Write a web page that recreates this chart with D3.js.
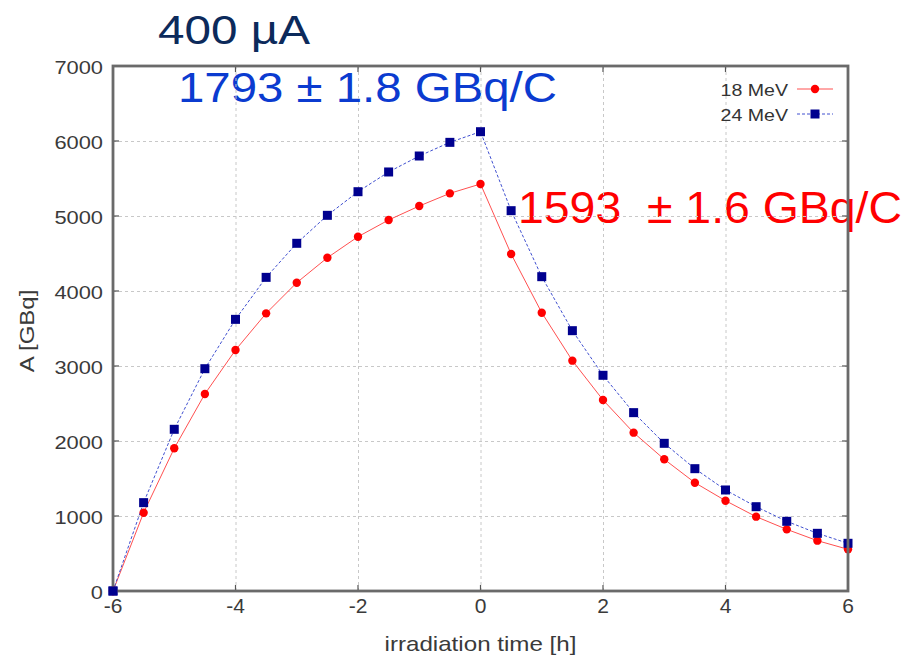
<!DOCTYPE html>
<html>
<head>
<meta charset="utf-8">
<script src="https://cdn.jsdelivr.net/npm/d3@7"></script>
<style>
  body { margin: 0; background: #fff; }
  svg { display: block; font-family: "Liberation Sans", Arial, sans-serif; }
  .grid line { stroke: #c8c8c8; stroke-dasharray: 3,3; stroke-width: 1; }
  .tick-label { fill: #3a3a3a; }
</style>
</head>
<body>
<svg id="chart"></svg>
<script>
// irradiation time [h], one point every half hour
const times = [-6, -5.5, -5, -4.5, -4, -3.5, -3, -2.5, -2, -1.5, -1, -0.5, 0,
               0.5, 1, 1.5, 2, 2.5, 3, 3.5, 4, 4.5, 5, 5.5, 6];

// activity A [GBq]
const mev18 = [0, 1044, 1903, 2627, 3213, 3702, 4111, 4444, 4724, 4947, 5133, 5302, 5427,
               4493, 3711, 3071, 2547, 2111, 1756, 1444, 1204, 991, 822, 671, 556];
const mev24 = [0, 1178, 2156, 2964, 3622, 4182, 4636, 5009, 5324, 5587, 5800, 5982, 6124,
               5071, 4191, 3471, 2876, 2378, 1969, 1631, 1347, 1124, 929, 769, 636];

const seriesNames = ['18 MeV', '24 MeV'];
const xTicks = [-6, -4, -2, 0, 2, 4, 6];
const yTicks = [0, 1000, 2000, 3000, 4000, 5000, 6000, 7000];

const annotations = ['400 µA', '1793 ± 1.8 GBq/C', '1593  ± 1.6 GBq/C'];

const width = 909, height = 655;
const margin = {top: 66, right: 61, bottom: 64, left: 113};
const innerW = width - margin.left - margin.right;
const innerH = height - margin.top - margin.bottom;

const svg = d3.select('#chart').attr('width', width).attr('height', height);

// widen text a bit, the source font is broader than Liberation Sans
function stretch(sel, factor) {
  sel.each(function() {
    const len = this.getComputedTextLength();
    d3.select(this).attr('textLength', len * factor).attr('lengthAdjust', 'spacingAndGlyphs');
  });
}

// big overlay labels sit under the plot frame
const ann = svg.append('g');
ann.append('text').attr('x', 158).attr('y', 44)
    .attr('font-size', 40).attr('fill', '#0c2a5b')
    .attr('textLength', 152).attr('lengthAdjust', 'spacingAndGlyphs')
    .text(annotations[0]);
ann.append('text').attr('x', 178).attr('y', 102)
    .attr('font-size', 42).attr('fill', '#0b3bd0')
    .attr('textLength', 379).attr('lengthAdjust', 'spacingAndGlyphs')
    .text(annotations[1]);
// keep the double space after the number
ann.append('text').attr('x', 518).attr('y', 223)
    .attr('font-size', 45).attr('fill', '#ff0000')
    .attr('textLength', 384).attr('lengthAdjust', 'spacingAndGlyphs')
    .text(annotations[2].replace(/ /g, '\u00a0'));

const chart = svg.append('g')
    .attr('transform', `translate(${margin.left},${margin.top})`);

const xScale = d3.scaleLinear().domain([-6, 6]).range([0, innerW]);
const yScale = d3.scaleLinear().domain([0, 7000]).range([innerH, 0]);

// dashed grid
chart.append('g').attr('class', 'grid')
    .call(d3.axisBottom(xScale).tickValues(xTicks.slice(1, -1)).tickSize(innerH).tickFormat(''))
    .call(g => g.select('.domain').remove());
chart.append('g').attr('class', 'grid')
    .call(d3.axisLeft(yScale).tickValues(yTicks.slice(1, -1)).tickSize(-innerW).tickFormat(''))
    .call(g => g.select('.domain').remove());

// lines and markers
const line = d3.line().x((d, i) => xScale(times[i])).y(d => yScale(d));

chart.append('path').datum(mev18)
    .attr('fill', 'none').attr('stroke', '#ff5050').attr('stroke-width', 1)
    .attr('d', line);
chart.append('path').datum(mev24)
    .attr('fill', 'none').attr('stroke', '#4050d0').attr('stroke-width', 1)
    .attr('stroke-dasharray', '3,2')
    .attr('d', line);

chart.selectAll('.pt18').data(mev18).join('circle')
    .attr('class', 'pt18')
    .attr('cx', (d, i) => xScale(times[i]))
    .attr('cy', d => yScale(d))
    .attr('r', 4.2).attr('fill', '#ff0000');
chart.selectAll('.pt24').data(mev24).join('rect')
    .attr('class', 'pt24')
    .attr('x', (d, i) => xScale(times[i]) - 4.5)
    .attr('y', d => yScale(d) - 4.5)
    .attr('width', 9).attr('height', 9).attr('fill', '#00008f');

// ticks on all four sides, pointing in
const tickLen = 6;
const ticks = chart.append('g').attr('stroke', '#555').attr('stroke-width', 1.2);
xTicks.forEach(t => {
  ticks.append('line').attr('x1', xScale(t)).attr('x2', xScale(t)).attr('y1', innerH).attr('y2', innerH - tickLen);
  ticks.append('line').attr('x1', xScale(t)).attr('x2', xScale(t)).attr('y1', 0).attr('y2', tickLen);
});
yTicks.forEach(t => {
  ticks.append('line').attr('x1', 0).attr('x2', tickLen).attr('y1', yScale(t)).attr('y2', yScale(t));
  ticks.append('line').attr('x1', innerW).attr('x2', innerW - tickLen).attr('y1', yScale(t)).attr('y2', yScale(t));
});

// frame
chart.append('rect')
    .attr('width', innerW).attr('height', innerH)
    .attr('fill', 'none').attr('stroke', '#6a6a6a').attr('stroke-width', 2.8);

// redraw the first points on top of the frame corner
chart.append('circle').datum(mev18[0])
    .attr('cx', xScale(times[0])).attr('cy', d => yScale(d)).attr('r', 4.2).attr('fill', '#ff0000');
chart.append('rect').datum(mev24[0])
    .attr('x', xScale(times[0]) - 4.5).attr('y', d => yScale(d) - 4.5)
    .attr('width', 9).attr('height', 9).attr('fill', '#00008f');

// tick labels
chart.selectAll('.ylab').data(yTicks).join('text')
    .attr('class', 'ylab tick-label')
    .attr('x', -10).attr('y', d => yScale(d)).attr('dy', '0.4em')
    .attr('text-anchor', 'end').attr('font-size', 19)
    .text(d => d)
    .call(stretch, 1.15);
chart.selectAll('.xlab').data(xTicks).join('text')
    .attr('class', 'xlab tick-label')
    .attr('x', d => xScale(d)).attr('y', innerH + 22)
    .attr('text-anchor', 'middle').attr('font-size', 21)
    .text(d => d);

// axis titles
svg.append('text')
    .attr('x', margin.left + innerW / 2).attr('y', 651)
    .attr('text-anchor', 'middle').attr('font-size', 21).attr('fill', '#3a3a3a')
    .text('irradiation time [h]')
    .call(stretch, 1.15);
svg.append('text')
    .attr('transform', 'translate(34,331) rotate(-90)')
    .attr('text-anchor', 'middle').attr('font-size', 20).attr('fill', '#3a3a3a')
    .text('A [GBq]')
    .call(stretch, 1.2);

// legend
const legend = svg.append('g');
const legendRows = [
  {name: seriesNames[0], y: 89, color: '#ff5050', mark: 'circle', fill: '#ff0000', dash: null},
  {name: seriesNames[1], y: 114, color: '#4050d0', mark: 'rect', fill: '#00008f', dash: '3,2'}
];
legendRows.forEach(r => {
  legend.append('text')
      .attr('x', 788).attr('y', r.y + 7)
      .attr('text-anchor', 'end').attr('font-size', 17).attr('fill', '#333')
      .text(r.name)
      .call(stretch, 1.15);
  legend.append('line')
      .attr('x1', 797).attr('x2', 833).attr('y1', r.y).attr('y2', r.y)
      .attr('stroke', r.color).attr('stroke-width', 1)
      .attr('stroke-dasharray', r.dash);
  if (r.mark === 'circle') {
    legend.append('circle').attr('cx', 815).attr('cy', r.y).attr('r', 4.2).attr('fill', r.fill);
  } else {
    legend.append('rect').attr('x', 815 - 4.5).attr('y', r.y - 4.5)
        .attr('width', 9).attr('height', 9).attr('fill', r.fill);
  }
});
</script>
</body>
</html>
